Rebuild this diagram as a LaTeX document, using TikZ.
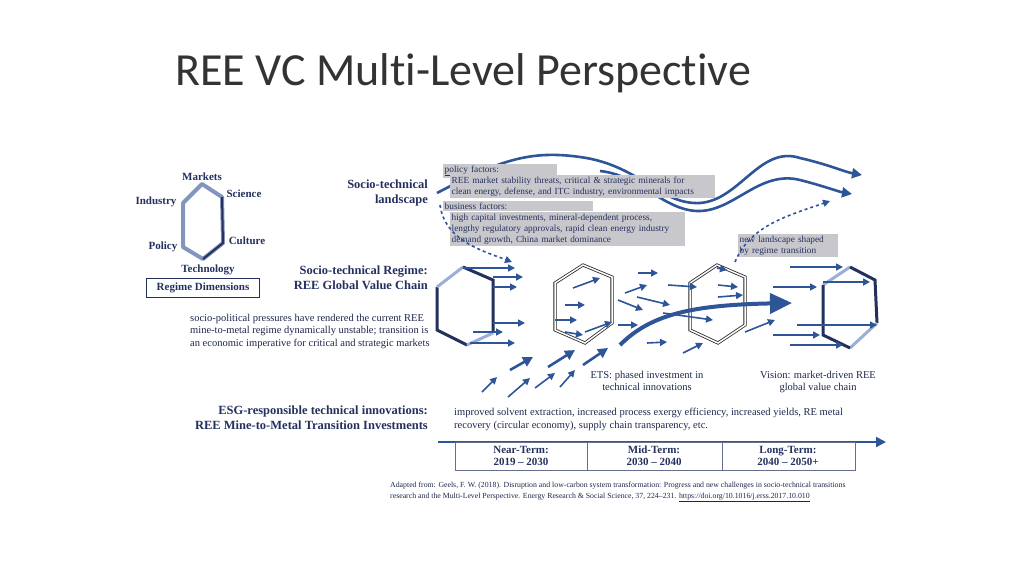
\documentclass[tikz,border=0pt]{standalone}
\usepackage{fontspec}
\setmainfont{Liberation Serif}
\newfontfamily\titlefont[RawFeature=-liga]{Carlito}
\usetikzlibrary{arrows.meta}
\definecolor{ab}{HTML}{2E5597}
\definecolor{nv}{HTML}{24305E}
\definecolor{lb}{HTML}{9AAED6}
\definecolor{gb}{HTML}{C8C8CC}
\tikzset{
 ar/.style={draw=ab,line width=1.6pt,-{Triangle[length=7pt,width=7pt]}},
 arb/.style={draw=ab,line width=2.6pt,-{Triangle[length=10pt,width=10pt]}},
 lbl/.style={text=nv,font=\fontsize{11}{12}\selectfont\bfseries,inner sep=0pt},
 bl/.style={text=nv,font=\fontsize{12.5}{15}\selectfont\bfseries,align=right,inner sep=0pt},
 tx/.style={text=nv!80!black,font=\fontsize{10.5}{12.5}\selectfont,align=left,inner sep=0pt},
 gbox/.style={fill=gb,text=nv,font=\fontsize{9.3}{11.2}\selectfont,align=left,inner sep=1.5pt,anchor=north west},
 dk/.style={draw=nv,line width=3pt},
 lt/.style={draw=lb,line width=3pt},
 dbl/.style={draw=black!85,double=white,double distance=1.5pt,line width=0.8pt,line join=miter}
}
\begin{document}
\begin{tikzpicture}[x=1pt,y=-1pt]
\useasboundingbox (0,0) rectangle (1024,576);
\node[anchor=base west,inner sep=0pt,text=black!80,font=\titlefont\fontsize{46}{52}\selectfont] (title) at (175,85) {REE VC Multi-Level Perspective};
% regime dimension hexagon
\draw[draw=lb!80!nv,line width=4pt,line join=round] (202,184)--(222,197)--(223,243)--(203,259)--(183,247)--(183,203)--cycle;
\draw[nv,line width=2pt] (222,197)--(223,243)--(203,259);
\node[lbl] (mk) at (202,177) {Markets};
\node[lbl] (sc) at (244,194) {Science};
\node[lbl] (in) at (156,202) {Industry};
\node[lbl] (cu) at (247,241) {Culture};
\node[lbl] (po) at (163,247) {Policy};
\node[lbl] (te) at (208,270) {Technology};
\node[lbl,draw=nv,line width=0.6pt,minimum width=113pt,minimum height=19pt] (rd) at (203,288) {Regime Dimensions};
\node[bl,anchor=north east] (land) at (428,180) {Socio-technical\\landscape};
\node[bl,anchor=north east] (reg) at (428,266) {Socio-technical Regime:\\REE Global Value Chain};
\node[tx,anchor=north west] (par) at (190,314) {socio-political pressures have rendered the current REE\\mine-to-metal regime dynamically unstable; transition is\\an economic imperative for critical and strategic markets};
% waves
\draw[ab,line width=2.6pt,-{Triangle[length=10pt,width=10pt]}] (437,193) .. controls (500,160) and (530,150) .. (580,157) .. controls (640,165) and (660,205) .. (700,203) .. controls (740,200) and (760,145) .. (800,158) .. controls (830,165) and (845,172) .. (862,175);
\draw[ab,line width=2.6pt,-{Triangle[length=10pt,width=10pt]}] (600,171) .. controls (640,175) and (665,212) .. (700,211) .. controls (735,210) and (760,170) .. (800,180) .. controls (820,185) and (840,192) .. (852,194);
% gray boxes
\node[gbox,text width=111pt] (pf) at (443,164) {\underline{policy factors:}};
\node[gbox,text width=262pt] (pm) at (450,175) {REE market stability threats, critical \& strategic minerals for\\clean energy, defense, and ITC industry, environmental impacts};
\node[gbox,text width=147pt] (bf) at (443,201) {business factors:};
\node[gbox,text width=232pt] (bm) at (450,212) {high capital investments, mineral-dependent process,\\lengthy regulatory approvals, rapid clean energy industry\\demand growth, China market dominance};
\node[gbox,text width=97pt] (nl) at (738,234) {new landscape shaped\\by regime transition};
% dashed
\draw[ab,line width=1.6pt,dashed,-{Triangle[length=7pt,width=7pt]}] (440,205) .. controls (445,240) and (480,250) .. (512,262);
\draw[ab,line width=1.6pt,dashed,-{Triangle[length=7pt,width=7pt]}] (735,262) .. controls (750,225) and (790,215) .. (830,201);
% left big hexagon
\draw[dk] (437,287)--(437,330)--(467,345);
\draw[lt] (437,287)--(463,267);
\draw[dk] (463,267)--(493,280)--(493,333);
\draw[lt] (493,333)--(467,345);
% right big hexagon
\draw[lt] (823,285)--(850,267);
\draw[dk] (850,267)--(875,280)--(877,323);
\draw[lt] (877,323)--(850,348);
\draw[dk] (850,348)--(823,335)--(823,285);
% middle double hexagons
\draw[dbl] (583,265)--(612,277)--(612,323)--(585,343)--(555,330)--(555,283)--cycle;
\draw[dbl] (717,265)--(745,277)--(745,325)--(718,343)--(690,330)--(690,283)--cycle;
% small arrows
\foreach \a/\b/\c/\d in {463/268/515/268, 493/277/523/277, 493/287/517/287, 493/323/525/323, 473/332/503/332, 470/343/515/343,
 573/288/600/278, 565/305/585/305, 555/320/577/320, 565/332/583/335, 585/332/612/322,
 638/273/658/273, 625/293/647/285, 618/300/643/310, 637/297/670/305, 618/325/638/325, 647/343/667/342, 683/353/703/343,
 668/285/697/287, 718/285/738/287, 718/297/743/295, 663/313/713/320, 717/268/727/270, 745/332/775/320,
 790/267/843/267, 773/287/817/287, 823/282/870/282, 797/325/877/325, 773/335/820/335, 790/345/843/345,
 482/392/497/377, 508/397/530/378, 535/388/555/373, 560/387/575/370}
 \draw[ar] (\a,\b)--(\c,\d);
\foreach \a/\b/\c/\d in {510/370/533/357, 548/367/575/350, 583/365/608/348}
 \draw[arb] (\a,\b)--(\c,\d);
% big curved arrow
\draw[ab,line width=4pt,-{Triangle[length=22pt,width=20pt]}] (620,345) .. controls (650,315) and (690,305) .. (792,303);
\node[tx,align=center,anchor=north] (ets) at (647,371) {ETS: phased investment in\\technical innovations};
\node[tx,align=center,anchor=north] (vis) at (818,371) {Vision: market-driven REE\\global value chain};
\node[bl,anchor=north east] (esg) at (428,406) {ESG-responsible technical innovations:\\REE Mine-to-Metal Transition Investments};
\node[tx,anchor=north west] (imp) at (454,408) {improved solvent extraction, increased process exergy efficiency, increased yields, RE metal\\recovery (circular economy), supply chain transparency, etc.};
% timeline
\coordinate (t0) at (438,442); \coordinate (t1) at (886,442);
\draw[ab,line width=2pt,-{Triangle[length=10pt,width=10pt]}] (t0)--(t1);
\draw[nv!70,line width=0.8pt] (455,442) rectangle (855,470) (587,442)--(587,470) (722,442)--(722,470);
\node[lbl,align=center] (nt) at (521,456) {Near-Term:\\2019 -- 2030};
\node[lbl,align=center] (mt) at (654,456) {Mid-Term:\\2030 -- 2040};
\node[lbl,align=center] (lt) at (788,456) {Long-Term:\\2040 -- 2050+};
\node[tx,anchor=north west,font=\fontsize{7.8}{10.5}\selectfont] (ft) at (390,482) {Adapted from: Geels, F. W. (2018). Disruption and low-carbon system transformation: Progress and new challenges in socio-technical transitions\\research and the Multi-Level Perspective. Energy Research \& Social Science, 37, 224--231. \underline{https://doi.org/10.1016/j.erss.2017.10.010}};
\end{tikzpicture}
\end{document}
